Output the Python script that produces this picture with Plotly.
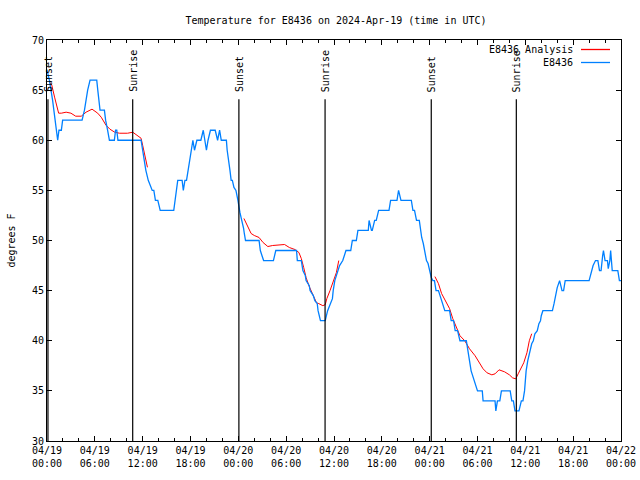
import pandas as pd
import plotly.graph_objects as go

BASE = pd.Timestamp("2024-04-19 00:00")

# Observed station temperatures (hours since 04/19 00:00 UTC, degrees F)
obs_hours = [0.0, 0.3, 0.7, 1.0, 1.34, 1.5, 1.8, 1.96, 4.4, 4.7, 4.9, 5.1, 5.4, 6.24, 6.37, 6.5, 6.65,
             7.2, 7.35, 7.6, 7.83, 8.45, 8.6, 8.75, 8.9, 11.8, 12.0, 12.2, 12.4, 12.7, 13.2, 13.4, 13.6,
             13.9, 14.2, 15.9, 16.05, 16.2, 16.4, 16.95, 17.1, 17.3, 17.5, 17.7, 17.9, 18.1, 18.3, 18.5,
             18.8, 19.3, 19.6, 20.0, 20.2, 20.5, 21.1, 21.4, 21.65, 21.86, 22.5, 22.6, 22.8, 22.95, 23.1,
             23.25, 23.45, 23.7, 23.95, 24.07, 24.2, 24.37, 24.5, 24.66, 24.75, 24.9, 26.6, 26.76, 26.96,
             27.17, 28.4, 28.7, 31.3, 31.4, 31.9, 32.1, 32.4, 32.5, 32.9, 33.0, 33.4, 33.6, 33.9, 34.0,
             34.3, 34.9, 35.2, 35.6, 35.8, 35.9, 36.1, 36.3, 36.5, 36.7, 37.1, 37.5, 38.1, 38.3, 38.8,
             39.0, 40.3, 40.4, 40.7, 40.8, 41.1, 41.3, 41.6, 42.9, 43.1, 43.9, 44.1, 44.4, 45.7, 45.9,
             46.1, 46.35, 46.7, 46.86, 47.0, 47.2, 47.4, 47.6, 47.8, 48.0, 48.2, 48.4, 48.6, 48.8, 49.1,
             49.5, 49.7, 49.9, 50.5, 50.7, 51.0, 51.2, 51.5, 51.8, 52.6, 52.8, 53.0, 53.2, 53.5, 53.7,
             54.0, 54.6, 54.7, 56.2, 56.3, 56.5, 56.8, 57.0, 58.1, 58.3, 58.5, 58.7, 59.2, 59.5, 59.7,
             59.9, 60.0, 60.1, 60.3, 60.6, 60.8, 61.0, 61.2, 61.5, 61.7, 61.9, 62.0, 62.2, 63.4, 63.6,
             63.8, 64.0, 64.3, 64.6, 64.8, 65.0, 68.0, 68.3, 68.5, 68.8, 69.1, 69.3, 69.5, 69.7, 69.8,
             70.0, 70.3, 70.4, 70.6, 70.7, 70.9, 71.6, 71.7, 71.8, 72.0]
obs_temps = [67, 66, 64, 62, 60, 61, 61, 62, 62, 63, 64, 65, 66, 66, 65, 64, 63,
             63, 62, 61, 60, 60, 61, 61, 60, 60, 59, 58, 57, 56, 55, 55, 54,
             54, 53, 53, 54, 55, 56, 56, 55, 56, 56, 57, 58, 59, 60, 59,
             60, 60, 61, 59, 60, 61, 61, 60, 61, 60, 60, 59, 58, 57, 56,
             56, 55.3, 55, 54, 53.3, 52.8, 52.2, 51.8, 51.2, 50.7, 50, 50, 49, 48.5,
             48, 48, 49, 49, 48, 48, 47, 46.5, 46, 45.5, 45, 44.5, 44, 43.7, 43,
             42, 42, 43, 43.7, 44.2, 45, 46, 46.5, 47, 47.5, 48, 49, 49, 50, 50,
             51, 51, 52, 51, 51, 52, 52, 53, 53, 54, 54, 55, 54, 54, 53,
             53, 52, 52, 51, 50.3, 49.7, 48.8, 48, 47.7, 47, 46.3, 46, 46, 45, 45,
             44, 43.5, 43, 43, 42, 42, 41, 41, 40, 40, 38.7, 38, 37, 36.2, 35.7,
             35, 35, 34, 34, 33, 34, 34, 35, 35, 34, 34, 33, 33, 34, 34,
             35, 36, 37, 38, 39, 39.7, 40, 40.7, 41, 41.7, 42, 42.5, 43, 43, 43.7,
             44.7, 45.3, 46, 45, 45, 46, 46, 47, 47.5, 48, 48, 47, 47, 48.5, 49,
             48, 48, 47.2, 48, 49, 47, 47, 46.5, 46, 46]

# Analysis series (None marks gaps between segments)
ana_hours = [0.3, 0.6, 0.95, 1.15, 1.46, 1.8, 2.4, 3.0, 3.6, 4.3, 4.9, 5.65, 6.36, 6.8, 7.4, 7.9,
             8.5, 9.1, 10.1, 10.76, 11.3, 11.8, 12.0, 12.2, 12.6, None,
             24.7, 25.0, 25.6, 26.0, 26.6, 27.1, 27.7, 28.3, 29.8, 30.4, 31.1, 31.6, 31.9, 32.2,
             32.5, 32.9, 33.3, 33.8, 34.1, 34.6, 34.9, 35.1, 35.5, 35.9, 36.3, 36.6, None,
             48.66, 49.1, 49.5, 50.1, 50.5, 50.9, 51.4, 51.8, 52.4, 53.0, 53.7, 54.3, 54.7, 55.2,
             55.8, 56.2, 56.7, 57.4, 58.0, 58.4, 58.8, 59.1, 59.4, 59.8, 60.2, 60.5, 60.8]
ana_temps = [65.8, 65.5, 64.3, 63.7, 62.7, 62.7, 62.8, 62.7, 62.4, 62.4, 62.8, 63.1, 62.7, 62.3, 61.5, 61.1,
             60.8, 60.7, 60.7, 60.8, 60.5, 60.2, 59.5, 58.7, 57.3, None,
             52.2, 51.7, 50.7, 50.5, 50.3, 49.8, 49.4, 49.5, 49.6, 49.3, 49.1, 48.8, 48.2, 47.3,
             46.3, 45.4, 44.7, 43.8, 43.7, 43.5, 43.6, 44.2, 45.0, 45.8, 46.8, 48.0, None,
             46.4, 45.7, 44.7, 43.7, 43.2, 42.2, 41.3, 40.5, 40.0, 39.2, 38.5, 37.7, 37.2, 36.8,
             36.6, 36.7, 37.1, 36.9, 36.6, 36.3, 36.2, 36.7, 37.2, 37.8, 38.8, 40.0, 40.7]

# Sun events (hours since 04/19 00:00 UTC)
sun_hours = [0.12, 10.75, 24.07, 34.88, 48.2, 58.87]
sun_labels = ["Sunset", "Sunrise", "Sunset", "Sunrise", "Sunset", "Sunrise"]

# Axis ticks
tick_hours = list(range(0, 73, 6))
y_ticks = [30, 35, 40, 45, 50, 55, 60, 65, 70]


def to_time(hours):
    return [None if h is None else BASE + pd.Timedelta(hours=h) for h in hours]


RED = "#ff0000"
BLUE = "#0080ff"
FONT = "DejaVu Sans Mono"
FS = 10

W, H = 640, 480
ML, MR, MT, MB = 47, 19, 40, 39
PW = W - ML - MR
PH = H - MT - MB

fig = go.Figure()
fig.add_trace(go.Scatter(x=to_time(ana_hours), y=ana_temps, mode="lines", name="E8436 Analysis",
                         line=dict(color=RED, width=1), connectgaps=False))
fig.add_trace(go.Scatter(x=to_time(obs_hours), y=obs_temps, mode="lines", name="E8436",
                         line=dict(color=BLUE, width=1.3)))

for h, lab in zip(sun_hours, sun_labels):
    t = BASE + pd.Timedelta(hours=h)
    fig.add_shape(type="line", xref="x", yref="y", x0=t, x1=t, y0=30, y1=64.1,
                  line=dict(color="black", width=1.2))
    fig.add_annotation(x=t, y=64.6, xref="x", yref="y", text=lab, textangle=-90,
                       showarrow=False, xanchor="center", yanchor="bottom",
                       font=dict(family=FONT, size=FS, color="black"))

# manual gnuplot-style legend (text right-aligned, sample on the right)
for i, (name, col) in enumerate([("E8436 Analysis", RED), ("E8436", BLUE)]):
    ypix = 9.5 + 13 * i          # pixels below the plot top
    yp = 1 - ypix / PH
    fig.add_annotation(x=(575 - ML) / PW, y=yp, xref="paper", yref="paper", text=name,
                       showarrow=False, xanchor="right", yanchor="middle",
                       font=dict(family=FONT, size=FS, color="black"))
    fig.add_shape(type="line", xref="paper", yref="paper",
                  x0=(581 - ML) / PW, x1=(610 - ML) / PW, y0=yp, y1=yp,
                  line=dict(color=col, width=1.3))

tick_vals = [BASE + pd.Timedelta(hours=h) for h in tick_hours]
tick_text = [t.strftime("%m/%d") + "<br>" + t.strftime("%H:%M") for t in tick_vals]

fig.update_xaxes(range=[BASE, BASE + pd.Timedelta(hours=72)], tickvals=tick_vals, ticktext=tick_text,
                 ticks="inside", ticklen=5, tickcolor="black", showline=True, linecolor="black",
                 linewidth=1, mirror="allticks", showgrid=False, zeroline=False, automargin=False,
                 tickfont=dict(family=FONT, size=FS, color="black"),
                 minor=dict(dtick=2 * 3600 * 1000, tick0=BASE, ticks="inside", ticklen=3,
                            tickcolor="black", showgrid=False))
fig.update_yaxes(range=[30, 70], tickvals=y_ticks, ticks="inside", ticklen=5, tickcolor="black",
                 showline=True, linecolor="black", linewidth=1, mirror="allticks", showgrid=False,
                 zeroline=False, automargin=False, tickfont=dict(family=FONT, size=FS, color="black"),
                 title=dict(text="degrees F", font=dict(family=FONT, size=FS, color="black"), standoff=14))

fig.update_layout(
    width=W, height=H, showlegend=False,
    paper_bgcolor="white", plot_bgcolor="white",
    margin=dict(l=ML, r=MR, t=MT, b=MB, autoexpand=False),
    title=dict(text="Temperature for E8436 on 2024-Apr-19 (time in UTC)", x=336 / W, xanchor="center",
               y=1 - 20 / H, yanchor="middle", font=dict(family=FONT, size=FS, color="black")),
)

# remove the default page margin so the 640x480 figure fills the window exactly
fig.write_html("out.html", config={"displayModeBar": False, "staticPlot": True},
               post_script="document.body.style.margin='0';document.documentElement.style.overflow='hidden';")
